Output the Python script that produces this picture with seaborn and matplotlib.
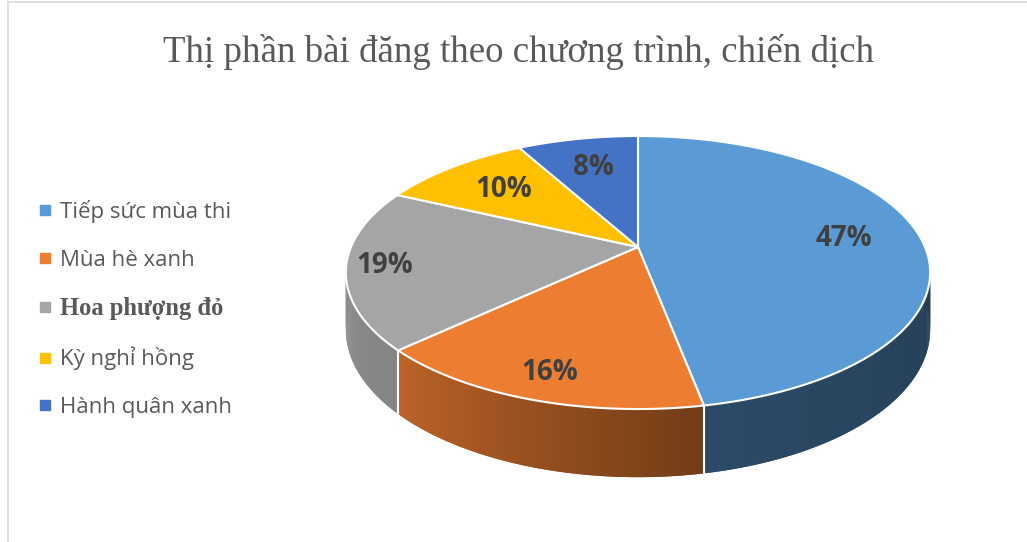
import numpy as np
import matplotlib
matplotlib.use("Agg")
import matplotlib.pyplot as plt
import matplotlib.colors as mcolors
from matplotlib.collections import PolyCollection
from matplotlib.lines import Line2D
import seaborn as sns

# du lieu
programs = ["Tiếp sức mùa thi", "Mùa hè xanh", "Hoa phượng đỏ", "Kỳ nghỉ hồng", "Hành quân xanh"]
shares = [47, 16, 19, 10, 8]
colors = ["#5B9BD5", "#ED7D31", "#A5A5A5", "#FFC000", "#4472C4"]
title = "Thị phần bài đăng theo chương trình, chiến dịch"

sns.set_theme(style="white")
plt.rcParams["font.family"] = ["Open Sans", "DejaVu Sans"]

# 3D view (Excel style): pixel geometry of the pie
W, H = 1027, 542
CX, CY = 638, 247        # slice apex on screen
SCALE = 287              # px per data unit
TILT = 0.459
PERSP = 0.187
DEPTH = 0.193
label_r = [0.73, 0.85, 0.87, 0.70, 0.70]


def project(theta, r=1.0):
    u = r * np.cos(theta)
    v = r * np.sin(theta)
    s = 1.0 / (1.0 + PERSP * v)
    return u * s, TILT * v * s, s


fig = plt.figure(figsize=(W / 100, H / 100), dpi=100)
xlim, ylim = (-1.2, 1.2), (-1.0, 0.6)
ax = fig.add_axes([(CX + xlim[0] * SCALE) / W, 1 - (CY - ylim[0] * SCALE) / H,
                   (xlim[1] - xlim[0]) * SCALE / W, (ylim[1] - ylim[0]) * SCALE / H])
ax.set_xlim(*xlim)
ax.set_ylim(*ylim)
ax.axis("off")

frac = np.array(shares) / sum(shares)
edges = np.pi / 2 - 2 * np.pi * np.concatenate([[0], np.cumsum(frac)])

# boční stěna - jen přední polovina, pruhy se překrývají aby nebyly švy
for i in range(len(shares)):
    lo, hi = max(edges[i + 1], -np.pi), min(edges[i], 0)
    if lo >= hi:
        continue
    t = np.linspace(lo, hi, max(int(np.degrees(hi - lo) * 2), 3))
    x, y, s = project(t)
    yb = y - DEPTH * s
    polys, cols = [], []
    base = np.array(mcolors.to_rgb(colors[i]))
    for j in range(len(t) - 1):
        k = min(j + 2, len(t) - 1)
        polys.append([(x[j], y[j]), (x[k], y[k]), (x[k], yb[k]), (x[j], yb[j])])
        deg = np.degrees((t[j] + t[j + 1]) / 2)
        f = np.interp(deg, [-180, -137, -79, 0], [0.88, 0.80, 0.48, 0.40])
        cols.append(tuple(base * f))
    ax.add_collection(PolyCollection(polys, facecolors=cols, edgecolors="none",
                                     linewidths=0, zorder=1))

for e in edges:
    if -np.pi < e < 0:
        x, y, s = project(np.array([e]))
        ax.plot([x[0], x[0]], [y[0], y[0] - DEPTH * s[0]], color="white", lw=1.5, zorder=2)

# horní plocha
for i in range(len(shares)):
    t = np.linspace(edges[i], edges[i + 1], 200)
    x, y, _ = project(t)
    ax.fill(np.r_[0, x], np.r_[0, y], facecolor=colors[i], edgecolor="white",
            lw=1.5, zorder=3)
    mid = (edges[i] + edges[i + 1]) / 2
    lx, ly, _ = project(mid, label_r[i])
    ax.text(lx, ly, f"{shares[i]}%", ha="center", va="center", fontsize=20,
            fontweight="bold", color="#404040", zorder=4)

fig.text(518.5 / W, 1 - 62 / H, title, ha="center", va="baseline",
         fontsize=26.6, color="#595959", family=["Liberation Serif", "DejaVu Serif"])

handles = [Line2D([], [], marker="s", linestyle="", markersize=6.5, color=c) for c in colors]
leg = ax.legend(handles, programs, loc="center left", bbox_to_anchor=(36 / W, 1 - 309 / H),
                bbox_transform=fig.transFigure, frameon=False, fontsize=16,
                labelcolor="#595959", handlelength=0.78, handletextpad=0.28,
                labelspacing=1.2, borderpad=0, borderaxespad=0)
serif_txt = leg.get_texts()[2]
serif_txt.set_fontfamily(["Liberation Serif", "DejaVu Serif"])
serif_txt.set_fontweight("bold")
serif_txt.set_fontsize(17.7)

# rám grafu
fig.add_artist(Line2D([7.5 / W, 7.5 / W], [0, 1 - 2 / H], transform=fig.transFigure,
                      color="#d9d9d9", lw=1.2))
fig.add_artist(Line2D([7.5 / W, 1], [1 - 2 / H, 1 - 2 / H], transform=fig.transFigure,
                      color="#d9d9d9", lw=1.2))

fig.savefig("out.png", dpi=100)
